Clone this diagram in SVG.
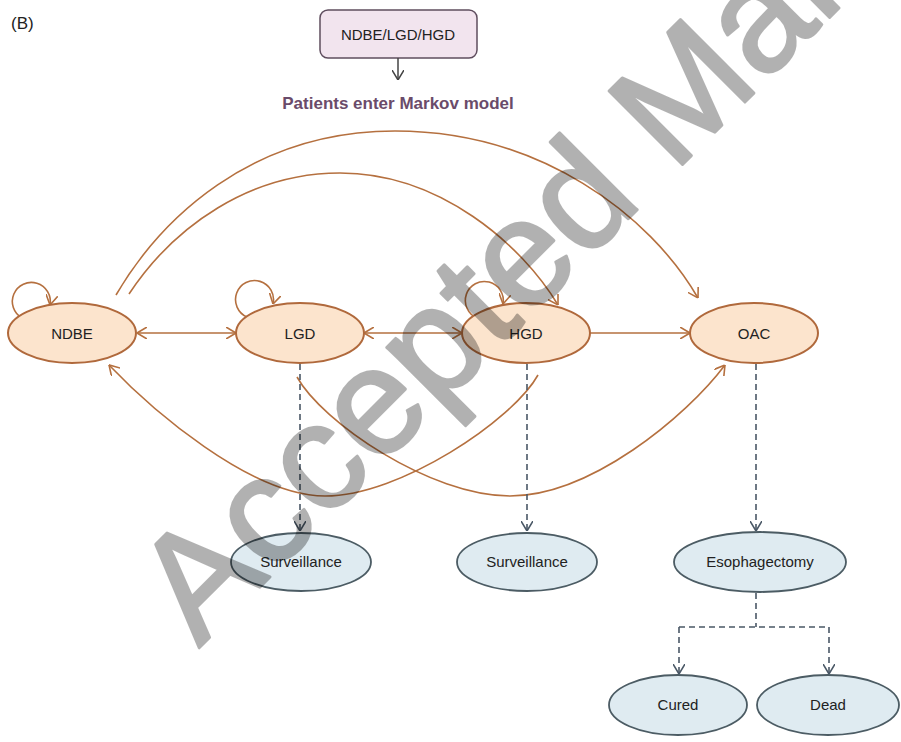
<svg xmlns="http://www.w3.org/2000/svg" width="901" height="742" viewBox="0 0 901 742">
<style>
.st{fill:#fce4cd;stroke:#b0693c;stroke-width:2}
.bl{fill:#dfebf1;stroke:#4c5c64;stroke-width:1.8}
.tx{font-family:"Liberation Sans",Arial,sans-serif;font-size:15px;fill:#222;text-anchor:middle}
.or{fill:none;stroke:#b5703f;stroke-width:1.6}
.ds{fill:none;stroke:#4a5866;stroke-width:1.6;stroke-dasharray:6 4}
</style>
<defs>
<marker id="ao" viewBox="0 0 10 12" refX="10" refY="6" markerWidth="10" markerHeight="12" markerUnits="userSpaceOnUse" orient="auto-start-reverse">
<path d="M0,0 L10,6 L0,12" fill="none" stroke="#b5703f" stroke-width="1.6"/>
</marker>
<marker id="ag" viewBox="0 0 10 12" refX="10" refY="6" markerWidth="10" markerHeight="12" markerUnits="userSpaceOnUse" orient="auto">
<path d="M0,0 L10,6 L0,12" fill="none" stroke="#4a5866" stroke-width="1.6" stroke-dasharray="none"/>
</marker>
<marker id="ak" viewBox="0 0 10 12" refX="10" refY="6" markerWidth="10" markerHeight="12" markerUnits="userSpaceOnUse" orient="auto">
<path d="M0,0 L10,6 L0,12" fill="none" stroke="#444" stroke-width="1.5"/>
</marker>
</defs>
<rect width="901" height="742" fill="#fff"/>
<text x="11" y="29" font-family="'Liberation Sans',Arial,sans-serif" font-size="17" fill="#222">(B)</text>

<g id="entry">
<rect x="320" y="10" width="157" height="48" rx="8" fill="#f2e4ee" stroke="#5f4d5e" stroke-width="1.5"/>
<text class="tx" x="398" y="40">NDBE/LGD/HGD</text>
</g>
<text x="398" y="109" font-family="'Liberation Sans',Arial,sans-serif" font-size="17" font-weight="bold" fill="#6a4b6a" text-anchor="middle">Patients enter Markov model</text>

<g id="connectors">
<line x1="398" y1="58" x2="398" y2="80" stroke="#444" stroke-width="1.5" marker-end="url(#ak)"/>
<line class="or" x1="137" y1="333" x2="236" y2="333" marker-start="url(#ao)" marker-end="url(#ao)"/>
<line class="or" x1="364" y1="333" x2="462" y2="333" marker-start="url(#ao)" marker-end="url(#ao)"/>
<line class="or" x1="590" y1="333" x2="690" y2="333" marker-end="url(#ao)"/>
<path class="or" d="M22,318 A19,19 0 1 1 50,305" marker-end="url(#ao)"/>
<path class="or" d="M247,317 A19,19 0 1 1 273,304" marker-end="url(#ao)"/>
<path class="or" d="M477,318 A19,19 0 1 1 503,304" marker-end="url(#ao)"/>
<path class="or" d="M116,295 C160,220 250,131 395,131 C540,131 650,215 698,298" marker-end="url(#ao)"/>
<path class="or" d="M129,294 C174,226 250,173 340,173 C440,173 522,245 558,305" marker-end="url(#ao)"/>
<path class="or" d="M538,375 C513,420 400,496 325,496 C250,496 150,408 109,365" marker-end="url(#ao)"/>
<path class="or" d="M297,377 C322,422 430,496 510,496 C590,496 686,417 725,365" marker-end="url(#ao)"/>
<line class="ds" x1="300" y1="364" x2="300" y2="531" marker-end="url(#ag)"/>
<line class="ds" x1="527" y1="364" x2="527" y2="531" marker-end="url(#ag)"/>
<line class="ds" x1="756" y1="364" x2="756" y2="531" marker-end="url(#ag)"/>
<path class="ds" d="M756,593 V627 M679,627 H829"/>
<line class="ds" x1="679" y1="627" x2="679" y2="674" marker-end="url(#ag)"/>
<line class="ds" x1="829" y1="627" x2="829" y2="674" marker-end="url(#ag)"/>
</g>

<g id="ndbe"><ellipse class="st" cx="72" cy="333" rx="64" ry="30"/><text class="tx" x="72" y="339">NDBE</text></g>
<g id="lgd"><ellipse class="st" cx="300" cy="333" rx="64" ry="30"/><text class="tx" x="300" y="339">LGD</text></g>
<g id="hgd"><ellipse class="st" cx="526" cy="333" rx="64" ry="30"/><text class="tx" x="526" y="339">HGD</text></g>
<g id="oac"><ellipse class="st" cx="754" cy="333" rx="64" ry="30"/><text class="tx" x="754" y="339">OAC</text></g>
<g id="surv1"><ellipse class="bl" cx="301" cy="562" rx="70" ry="29"/><text class="tx" x="301" y="567">Surveillance</text></g>
<g id="surv2"><ellipse class="bl" cx="527" cy="562" rx="70" ry="29"/><text class="tx" x="527" y="567">Surveillance</text></g>
<g id="esoph"><ellipse class="bl" cx="760" cy="562" rx="86" ry="30"/><text class="tx" x="760" y="567">Esophagectomy</text></g>
<g id="cured"><ellipse class="bl" cx="678" cy="705" rx="69" ry="30"/><text class="tx" x="678" y="710">Cured</text></g>
<g id="dead"><ellipse class="bl" cx="828" cy="705" rx="71" ry="30"/><text class="tx" x="828" y="710">Dead</text></g>

<g opacity="0.3">
<text x="0" y="0" transform="translate(199,648) rotate(-45)" font-family="'Liberation Sans',Arial,sans-serif" font-size="151" fill="#000" stroke="#000" stroke-width="3" stroke-linejoin="round">Accepted Manuscript</text>
</g>
</svg>
